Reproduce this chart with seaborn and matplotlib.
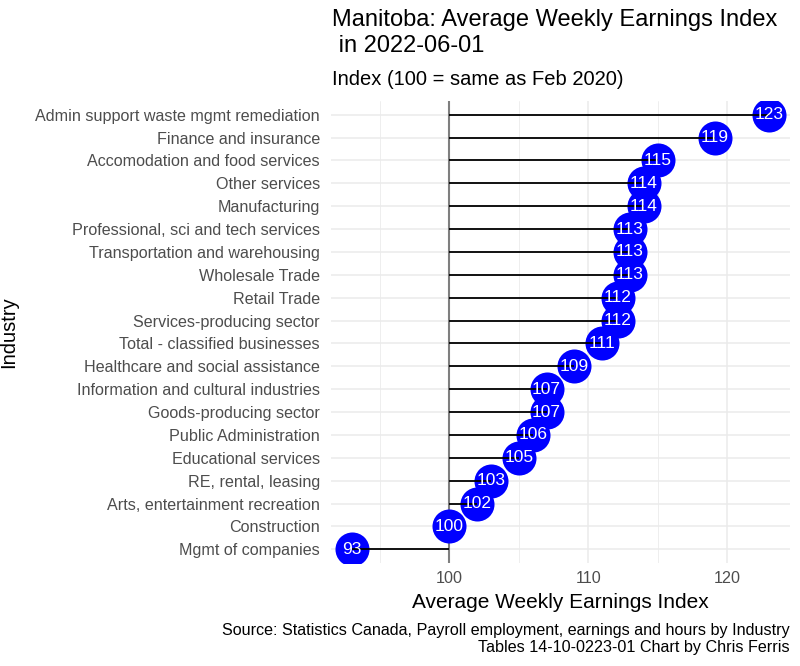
import matplotlib
matplotlib.use("Agg")
import matplotlib.pyplot as plt
import seaborn as sns
import pandas as pd

industries = [
    "Admin support waste mgmt remediation",
    "Finance and insurance",
    "Accomodation and food services",
    "Other services",
    "Manufacturing",
    "Professional, sci and tech services",
    "Transportation and warehousing",
    "Wholesale Trade",
    "Retail Trade",
    "Services-producing sector",
    "Total - classified businesses",
    "Healthcare and social assistance",
    "Information and cultural industries",
    "Goods-producing sector",
    "Public Administration",
    "Educational services",
    "RE, rental, leasing",
    "Arts, entertainment recreation",
    "Construction",
    "Mgmt of companies",
]
index_values = [123.0, 119.1, 115.0, 114.0, 114.0, 113.0, 113.0, 113.0, 112.1, 112.1,
                111.0, 109.0, 107.0, 107.0, 106.0, 105.0, 103.0, 102.0, 100.0, 93.0]
x_ticks = [100, 110, 120]
minor_ticks = [95, 105, 115]

df = pd.DataFrame({"Industry": industries, "Index": index_values})

sns.set_theme(style="white")
plt.rcParams["font.family"] = ["Liberation Sans", "DejaVu Sans"]

fig = plt.figure(figsize=(8, 6.66), dpi=100)
ax = fig.add_axes([331/800, 1-563/666, (790-331)/800, (563-101)/666])

ax.axvline(100, color="#7f7f7f", lw=1.5, zorder=1.5)
sns.stripplot(data=df, x="Index", y="Industry", order=industries, orient="h",
              jitter=False, size=24.5, color="#0000ff", linewidth=0, ax=ax, zorder=2)
ypos = list(range(len(industries)))
ax.hlines(ypos, 100, df["Index"], color="black", lw=1.3, zorder=3)
for y, v in zip(ypos, index_values):
    ax.text(v, y, f"{int(round(v))}", color="white", ha="center", va="center",
            fontsize=12.5, zorder=4)

ax.set_xlim(91.5, 124.5)
ax.set_ylim(len(industries) - 0.4, -0.6)
ax.set_xticks(x_ticks)
ax.set_xticks(minor_ticks, minor=True)
ax.grid(True, which="major", color="#ebebeb", lw=1.1, zorder=0)
ax.grid(True, which="minor", axis="x", color="#ebebeb", lw=0.6, zorder=0)
ax.set_axisbelow(True)
for s in ax.spines.values():
    s.set_visible(False)
ax.tick_params(axis="both", which="both", length=0, labelsize=11.6, labelcolor="#4d4d4d")
ax.tick_params(axis="y", pad=8)
ax.tick_params(axis="x", pad=6)
ax.set_xlabel("Average Weekly Earnings Index", fontsize=15, color="black", labelpad=5)
ax.set_ylabel("Industry", fontsize=14.5, color="black")
ax.yaxis.set_label_coords(18/800, 1-332/666, transform=fig.transFigure)

fig.text(332/800, 1-9/666, "Manitoba: Average Weekly Earnings Index\n in 2022-06-01",
         ha="left", va="top", fontsize=17, color="black", linespacing=1.22)
fig.text(332/800, 1-70/666, "Index (100 = same as Feb 2020)", ha="left", va="top",
         fontsize=14.5, color="black")
fig.text(790/800, 1-623/666, "Source: Statistics Canada, Payroll employment, earnings and hours by Industry\nTables 14-10-0223-01 Chart by Chris Ferris",
         ha="right", va="top", fontsize=11.6, color="black", linespacing=1.15)

fig.savefig("out.png", dpi=100, facecolor="white")
